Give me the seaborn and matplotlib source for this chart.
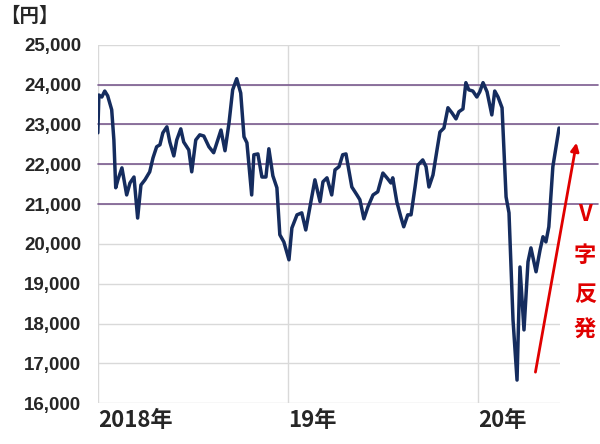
import matplotlib
matplotlib.use('Agg')
import matplotlib.pyplot as plt
import seaborn as sns
import pandas as pd

# Weekly Nikkei closes, Jan 2018 - Jun 2020 (week index from 2018-01-01)
weeks = [0, 0.3, 1.1, 1.9, 2.7, 3.8, 4.4, 4.9, 5.5, 6.6, 7.9, 8.8, 9.9, 10.9, 11.8, 12.9, 14.2, 15.1, 16.1, 17.0,
         17.8, 18.9, 19.7, 20.8, 21.6, 22.7, 23.5, 24.9, 25.7, 26.8, 27.9, 29.0, 30.4, 31.7, 33.7, 34.8, 35.9, 36.9, 38.0, 39.1,
         40.0, 40.8, 42.1, 42.7, 43.8, 44.9, 46.0, 46.8, 47.9, 49.0, 49.8, 50.9, 52.3, 53.1, 54.5, 55.8, 56.9, 58.3, 59.4, 60.8,
         61.6, 62.7, 64.0, 64.9, 66.0, 67.0, 67.9, 69.5, 70.9, 71.7, 72.8, 73.9, 75.3, 76.6, 78.0, 79.1, 80.2, 80.7, 81.8, 82.9,
         83.7, 84.8, 85.7, 86.8, 87.6, 88.9, 89.8, 90.6, 91.7, 92.8, 93.6, 94.7, 95.8, 96.9, 98.0, 98.8, 99.9, 100.7, 101.5, 102.6,
         103.7, 104.5, 105.4, 106.5, 107.8, 108.6, 109.5, 110.6, 111.7, 112.5, 113.6, 114.7, 115.5, 116.6, 117.7, 118.5, 119.9, 121.0, 121.8, 122.6,
         123.4, 124.5, 126.2]
prices = [22790, 23740, 23690, 23840, 23720, 23370, 22610, 21410, 21610, 21910, 21230, 21530, 21680, 20650, 21480, 21610, 21810, 22160, 22440, 22490,
          22790, 22940, 22560, 22210, 22610, 22890, 22560, 22360, 21810, 22610, 22740, 22710, 22440, 22290, 22860, 22340, 23040, 23870, 24150, 23790,
          22690, 22540, 21230, 22240, 22260, 21680, 21680, 22390, 21710, 21410, 20230, 20050, 19600, 20400, 20730, 20780, 20350, 21060, 21610, 21060,
          21560, 21660, 21230, 21860, 21940, 22240, 22260, 21430, 21230, 21110, 20630, 20930, 21230, 21310, 21780, 21660, 21530, 21660, 21060, 20680,
          20430, 20730, 20730, 21430, 21980, 22110, 21940, 21430, 21730, 22360, 22810, 22910, 23420, 23290, 23140, 23320, 23390, 24050, 23870, 23840,
          23690, 23820, 24050, 23820, 23240, 23840, 23690, 23420, 21180, 20780, 18090, 16580, 19420, 17840, 19550, 19900, 19300, 19850, 20180, 20050,
          20430, 21940, 22910]
year_ticks = [0, 52, 104]
year_labels = ['2018年', '19年', '20年']
ref_levels = [21000, 22000, 23000, 24000]
y_ticks = list(range(16000, 25001, 1000))
assert len(weeks) == len(prices)

df = pd.DataFrame({'week': weeks, 'price': prices})

sns.set_style('white')
plt.rcParams['font.family'] = ['Noto Sans CJK JP', 'DejaVu Sans']

fig = plt.figure(figsize=(6, 4.44), dpi=100)
ax = fig.add_axes([0.163, 0.092, 0.77, 0.807])

for v in y_ticks:
    ax.axhline(v, color='#d9d9d9', lw=1, zorder=0)
for t in year_ticks:
    ax.axvline(t, color='#d9d9d9', lw=1, zorder=0)
for v in ref_levels:
    ax.axhline(v, xmin=0, xmax=1.082, color='#7b5b8f', lw=1.2, zorder=1, clip_on=False)

sns.lineplot(data=df, x='week', y='price', color='#152c5e', lw=2.5, ax=ax, zorder=3)

ax.set_xlim(0, 126.4)
ax.set_ylim(16000, 25000)
ax.set_yticks(y_ticks)
ax.set_yticklabels([f'{v:,}' for v in y_ticks], fontsize=13.5, fontweight='bold', family=['Liberation Sans'])
ax.set_xticks(year_ticks)
ax.set_xticklabels(year_labels, fontsize=16, fontweight='bold', ha='left')
ax.tick_params(axis='x', pad=4, length=0)
ax.tick_params(axis='y', length=0, pad=12)
ax.set_xlabel('')
ax.set_ylabel('')
for s in ax.spines.values():
    s.set_visible(False)

fig.text(0.0, 0.962, '【円】', fontsize=14, fontweight='bold', va='center')

ax.annotate('', xy=(131.1, 22610), xytext=(119.6, 16710),
            arrowprops=dict(arrowstyle='-|>', color='#e00000', lw=2, mutation_scale=12),
            annotation_clip=False)
for ch, yv in zip(['V', '字', '反', '発'], [20730, 19720, 18720, 17840]):
    ax.text(133.3, yv, ch, color='#e00000', fontsize=16, fontweight='bold',
            ha='center', va='center', clip_on=False)

fig.savefig('out.png', dpi=100)
